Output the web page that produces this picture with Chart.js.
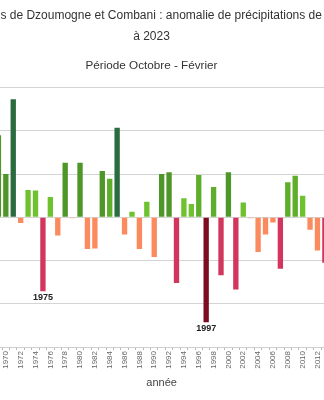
<!DOCTYPE html>
<html>
<head>
<meta charset="utf-8">
<script src="https://cdn.jsdelivr.net/npm/chart.js@4/dist/chart.umd.min.js"></script>
<style>
  html, body { margin: 0; padding: 0; background: #fff; overflow: hidden; width: 324px; height: 400px; }
  #wrap { position: absolute; left: -70px; top: 0; width: 443px; height: 400px; }
</style>
</head>
<body>
<div id="wrap"><canvas id="c" width="443" height="400"></canvas></div>
<script>
// Season (October - February) rainfall anomaly, mm, Dzoumogne + Combani
const years = [
  1969, 1970, 1971, 1972, 1973, 1974, 1975, 1976, 1977, 1978,
  1979, 1980, 1981, 1982, 1983, 1984, 1985, 1986, 1987, 1988,
  1989, 1990, 1991, 1992, 1993, 1994, 1995, 1996, 1997, 1998,
  1999, 2000, 2001, 2002, 2003, 2004, 2005, 2006, 2007, 2008,
  2009, 2010, 2011, 2012, 2013
];
const anomalies = [
   190,  100,  273,  -13,   63,   62, -171,   47,  -42,  126,
    -2,  126,  -73,  -72,  107,   89,  207,  -40,   13,  -73,
    36,  -92,  100,  104, -152,   44,   31,   98, -243,   70,
  -134,  104, -167,   34,   -2,  -80,  -40,  -12, -119,   81,
    96,   50,  -29,  -77, -105
];
// Years whose bar carries its year as a label
const labelledYears = [1975, 1997];
// Value axis
const yMin = -300, yMax = 300, yStep = 100;

const titleLines = [
  'Moyennes de Dzoumogne et Combani : anomalie de précipitations de 1961',
  'à 2023'
];
const subtitleText = 'Période Octobre - Février';
const xAxisTitle = 'année';

// Colour classes by anomaly size
function colourFor(v) {
  if (v >= 200) return '#2b6b40';
  if (v >= 100) return '#4f9629';
  if (v >= 65)  return '#5fae2b';
  if (v > 0)    return '#6fc22f';
  if (v > -10)  return '#e9b28f';
  if (v > -100) return '#fb8a5e';
  if (v > -200) return '#d3365c';
  return '#7d0b22';
}

const FONT = '"Liberation Sans", Arial, sans-serif';

// Writes the year under selected bars
const barYearLabels = {
  id: 'barYearLabels',
  afterDatasetsDraw(chart) {
    const meta = chart.getDatasetMeta(0);
    const ctx = chart.ctx;
    ctx.save();
    ctx.font = 'bold 9px ' + FONT;
    ctx.fillStyle = '#222';
    ctx.textAlign = 'center';
    ctx.textBaseline = 'top';
    labelledYears.forEach(function (yr) {
      const i = years.indexOf(yr);
      if (i < 0) return;
      const bar = meta.data[i];
      ctx.fillText(String(yr), bar.x, bar.y + 1.5);
    });
    ctx.restore();
  }
};

new Chart(document.getElementById('c'), {
  type: 'bar',
  data: {
    labels: years.map(String),
    datasets: [{
      data: anomalies,
      backgroundColor: anomalies.map(colourFor),
      borderWidth: 0,
      barPercentage: 0.72,
      categoryPercentage: 1
    }]
  },
  options: {
    responsive: false,
    animation: false,
    layout: { padding: 0 },
    plugins: {
      legend: { display: false },
      tooltip: { enabled: false },
      title: {
        display: true,
        text: titleLines,
        color: '#333',
        font: { family: FONT, size: 12, weight: 'normal', lineHeight: 1.75 },
        padding: { top: 5, bottom: 12 }
      },
      subtitle: {
        display: true,
        text: subtitleText,
        color: '#333',
        font: { family: FONT, size: 11.7, weight: 'normal', lineHeight: 1.2 },
        padding: { top: 0, bottom: 14.6 }
      }
    },
    scales: {
      x: {
        grid: { display: true, drawOnChartArea: false, tickLength: 3, color: '#b8b8b8', offset: true },
        border: { display: true, color: '#cfcfcf' },
        ticks: {
          autoSkip: false,
          minRotation: 90,
          maxRotation: 90,
          padding: 1,
          color: '#666',
          font: { family: FONT, size: 8 },
          callback: function (v, i) { return years[i] % 2 === 0 ? String(years[i]) : ''; }
        },
        title: {
          display: true,
          text: xAxisTitle,
          color: '#444',
          font: { family: FONT, size: 11 },
          padding: { top: 6.6, bottom: 10.4 }
        }
      },
      y: {
        min: yMin,
        max: yMax,
        ticks: { display: false, stepSize: yStep },
        grid: { color: '#d4d4d4', drawTicks: false },
        border: { display: false },
        afterFit: function (scale) { scale.width = 64.7; }
      },
      yRight: {
        position: 'right',
        min: yMin,
        max: yMax,
        ticks: { display: false },
        grid: { display: false, drawTicks: false },
        border: { display: false },
        afterFit: function (scale) { scale.width = 44.4; }
      }
    }
  },
  plugins: [barYearLabels]
});
</script>
</body>
</html>
